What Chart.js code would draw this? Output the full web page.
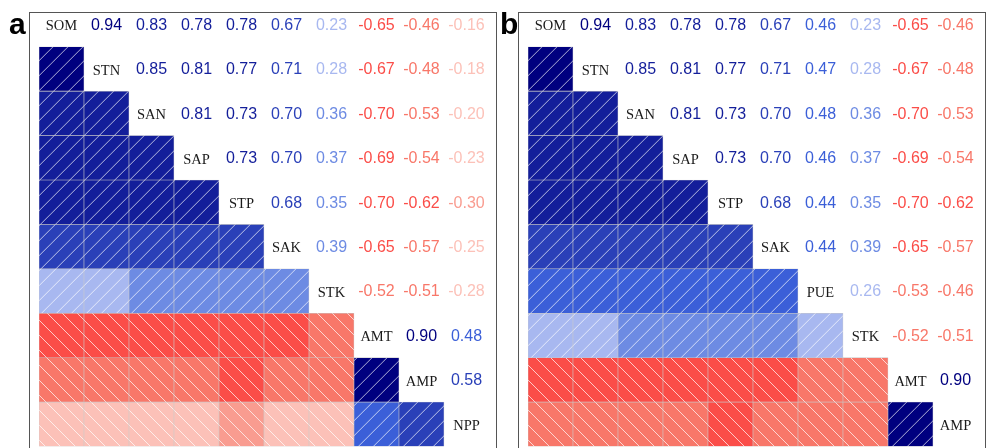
<!DOCTYPE html>
<html>
<head>
<meta charset="utf-8">
<script src="https://cdn.jsdelivr.net/npm/chart.js@4.4.1/dist/chart.umd.min.js"></script>
<style>
  body { margin: 0; background: #fff; width: 987px; height: 448px; overflow: hidden; position: relative; }
  canvas { position: absolute; top: 0; }
  .frame { position: absolute; top: 12px; height: 520px; border: 1px solid #555; box-sizing: border-box; }
</style>
</head>
<body>
<div class="frame" style="left:29px; width:468px;"></div>
<div class="frame" style="left:518px; width:468px;"></div>
<canvas id="panelA" width="490" height="448" style="left:0"></canvas>
<canvas id="panelB" width="490" height="448" style="left:489px"></canvas>
<script>
// panel a
let labelsA = ['SOM', 'STN', 'SAN', 'SAP', 'STP', 'SAK', 'STK', 'AMT', 'AMP', 'NPP']
let somA = [0.94, 0.83, 0.78, 0.78, 0.67, 0.23, -0.65, -0.46, -0.16]
let stnA = [0.85, 0.81, 0.77, 0.71, 0.28, -0.67, -0.48, -0.18]
let sanA = [0.81, 0.73, 0.70, 0.36, -0.70, -0.53, -0.20]
let sapA = [0.73, 0.70, 0.37, -0.69, -0.54, -0.23]
let stpA = [0.68, 0.35, -0.70, -0.62, -0.30]
let sakA = [0.39, -0.65, -0.57, -0.25]
let stkA = [-0.52, -0.51, -0.28]
let amtA = [0.90, 0.48]
let ampA = [0.58]
let nppA = []

// panel b
let labelsB = ['SOM', 'STN', 'SAN', 'SAP', 'STP', 'SAK', 'PUE', 'STK', 'AMT', 'AMP']
let somB = [0.94, 0.83, 0.78, 0.78, 0.67, 0.46, 0.23, -0.65, -0.46]
let stnB = [0.85, 0.81, 0.77, 0.71, 0.47, 0.28, -0.67, -0.48]
let sanB = [0.81, 0.73, 0.70, 0.48, 0.36, -0.70, -0.53]
let sapB = [0.73, 0.70, 0.46, 0.37, -0.69, -0.54]
let stpB = [0.68, 0.44, 0.35, -0.70, -0.62]
let sakB = [0.44, 0.39, -0.65, -0.57]
let pueB = [0.26, -0.53, -0.46]
let stkB = [-0.52, -0.51]
let amtB = [0.90]
let ampB = []

function binColor(v) {
    if (v >= 0.88) return '#00007f'
    if (v >= 0.72) return '#131e9a'
    if (v >= 0.5) return '#2a40b8'
    if (v >= 0.4) return '#3b5fd8'
    if (v >= 0.3) return '#6d8be3'
    if (v >= 0) return '#a8b8f0'
    if (v > -0.3) return '#fcc1b8'
    if (v > -0.4) return '#f99c90'
    if (v > -0.6) return '#f87769'
    return '#fb4d48'
}

// full symmetric matrix from the upper-triangle rows
function fullMatrix(rows) {
    let n = rows.length
    let m = []
    for (let i = 0; i < n; i++) m.push(new Array(n).fill(1))
    for (let i = 0; i < n; i++) {
        for (let j = i + 1; j < n; j++) {
            m[i][j] = rows[i][j - i - 1]
            m[j][i] = rows[i][j - i - 1]
        }
    }
    return m
}

let patterns = {}
function hatch(v) {
    let color = binColor(v)
    let key = color + (v >= 0 ? '/' : '\\')
    if (patterns[key]) return patterns[key]
    let s = 15
    let c = document.createElement('canvas')
    c.width = s
    c.height = s
    let g = c.getContext('2d')
    g.fillStyle = color
    g.fillRect(0, 0, s, s)
    g.strokeStyle = 'rgba(255,255,255,0.7)'
    g.lineWidth = 1
    g.beginPath()
    if (v >= 0) {
        g.moveTo(-2, s + 2); g.lineTo(s + 2, -2)
        g.moveTo(-2, 2); g.lineTo(2, -2)
        g.moveTo(s - 2, s + 2); g.lineTo(s + 2, s - 2)
    } else {
        g.moveTo(-2, -2); g.lineTo(s + 2, s + 2)
        g.moveTo(-2, s - 2); g.lineTo(2, s + 2)
        g.moveTo(s - 2, -2); g.lineTo(s + 2, 2)
    }
    g.stroke()
    let p = g.createPattern(c, 'repeat')
    p.setTransform(new DOMMatrix([1, 0, 0, 1, v >= 0 ? 9.7 : 4, 0]))
    patterns[key] = p
    return p
}

const cellText = {
    id: 'cellText',
    afterDatasetsDraw(chart, args, opts) {
        let ctx = chart.ctx
        let xs = chart.scales.x
        let ys = chart.scales.y
        let m = opts.matrix
        ctx.save()
        ctx.textAlign = 'center'
        ctx.textBaseline = 'middle'
        opts.labels.forEach((lab, i) => {
            ctx.font = '14.5px "Liberation Serif"'
            ctx.fillStyle = '#1a1a1a'
            ctx.fillText(lab, xs.getPixelForValue(i), ys.getPixelForValue(i) + 2)
            ctx.font = '16px "Liberation Sans"'
            for (let j = i + 1; j < opts.labels.length; j++) {
                ctx.fillStyle = binColor(m[i][j])
                ctx.fillText(m[i][j].toFixed(2), xs.getPixelForValue(j), ys.getPixelForValue(i) + 1)
            }
        })
        ctx.font = 'bold 30px "Liberation Sans"'
        ctx.fillStyle = '#000'
        ctx.textAlign = 'left'
        ctx.textBaseline = 'alphabetic'
        ctx.fillText(opts.letter, opts.letterX, 34)
        ctx.restore()
    }
}

function makePanel(canvas, labels, rows, letter, letterX) {
    let m = fullMatrix(rows)
    let datasets = []
    for (let r = 1; r < labels.length; r++) {
        datasets.push({
            data: labels.map((_, c) => c < r ? [r - 0.5, r + 0.5] : null),
            backgroundColor: labels.map((_, c) => c < r ? hatch(m[r][c]) : 'transparent'),
            borderColor: '#c8c8c8',
            borderWidth: 0.6,
            borderSkipped: false,
            grouped: false,
            barPercentage: 1,
            categoryPercentage: 1
        })
    }
    return new Chart(canvas, {
        type: 'bar',
        data: { labels: labels, datasets: datasets },
        options: {
            responsive: false,
            animation: false,
            layout: { padding: { left: 39, right: 1, top: 2.3, bottom: 1.5 } },
            scales: {
                x: { type: 'category', display: false, offset: true },
                y: { type: 'linear', display: false, min: -0.5, max: 9.5, reverse: true }
            },
            plugins: {
                legend: { display: false },
                tooltip: { enabled: false },
                cellText: { labels: labels, matrix: m, letter: letter, letterX: letterX }
            }
        },
        plugins: [cellText]
    })
}

makePanel(document.getElementById('panelA'), labelsA,
    [somA, stnA, sanA, sapA, stpA, sakA, stkA, amtA, ampA, nppA], 'a', 9)
makePanel(document.getElementById('panelB'), labelsB,
    [somB, stnB, sanB, sapB, stpB, sakB, pueB, stkB, amtB, ampB], 'b', 11)
</script>
</body>
</html>
